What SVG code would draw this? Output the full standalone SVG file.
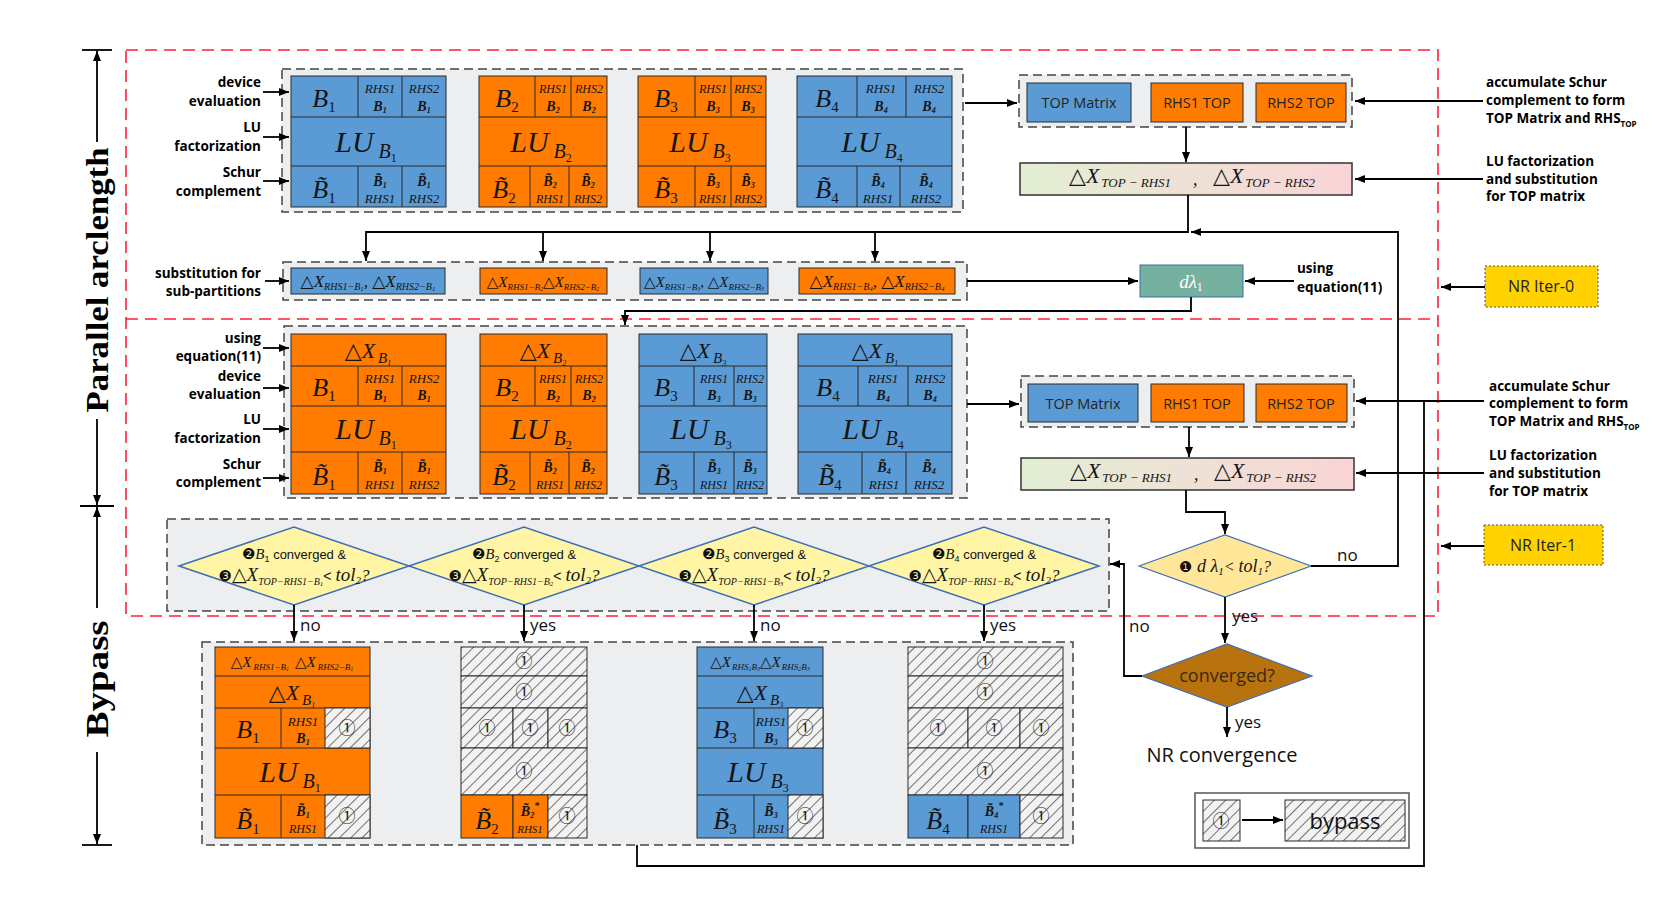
<svg xmlns="http://www.w3.org/2000/svg" width="1660" height="922" viewBox="0 0 1660 922">
<defs>
<style>
.blu{fill:#5B9BD5;stroke:#2B2B2B;stroke-width:1}
.org{fill:#FF7C00;stroke:#2B2B2B;stroke-width:1}
.hat{fill:url(#hatch);stroke:#2B2B2B;stroke-width:1}
.gl{fill:none;stroke:#2B2B2B;stroke-width:1}
.gbox{fill:#EDEEF0;stroke:#444;stroke-width:1.5;stroke-dasharray:9 5}
.red{fill:none;stroke:#FF1E3C;stroke-width:1.6;stroke-dasharray:12 7}
.ln{fill:none;stroke:#000;stroke-width:1.8}
.arr{marker-end:url(#ah)}
.m{font-family:"Liberation Serif","DejaVu Serif","DejaVu Sans",serif;font-style:italic;fill:#151515}
.s{font-family:"Open Sans","DejaVu Sans",sans-serif;fill:#222}
.lb{font-family:"Open Sans","DejaVu Sans",sans-serif;font-weight:bold;font-size:13.5px;fill:#000}
.c{text-anchor:middle}
.r{text-anchor:end}
.cn{font-family:"DejaVu Sans","Noto Sans CJK SC",sans-serif;font-style:normal}
.ci{font-family:"Noto Sans CJK SC","DejaVu Sans",sans-serif;font-size:17px;text-anchor:middle;fill:#222}
.nar{font-family:"Liberation Sans Narrow","Liberation Sans",sans-serif;font-style:normal}
.big{font-size:26px}
.sm{font-size:13px}
.sm2{font-size:12px}
.smb{font-size:14px;font-weight:bold}
.lu{font-size:30px}
.dx{font-size:22px}
.sb{font-size:15px;font-style:normal}
.ss{font-size:8px}
.lub{font-size:20px}
.lus{font-size:12px;font-style:normal}
.dia{fill:#FFF5A5;stroke:#3D6FB6;stroke-width:1.5}
.top{font-size:14.5px}
.lab{font-family:"Open Sans","DejaVu Sans",sans-serif;font-size:17px;fill:#111}
.ax{font-family:"Liberation Serif",serif;font-weight:bold;font-size:32px;text-anchor:middle}
</style>
<marker id="ah" markerWidth="10" markerHeight="8" refX="10" refY="4" orient="auto" markerUnits="userSpaceOnUse"><path d="M0,0 L10,4 L0,8 z" fill="#000"/></marker>
<pattern id="hatch" width="8" height="8" patternUnits="userSpaceOnUse" patternTransform="rotate(45)"><rect width="8" height="8" fill="#F2F2F2"/><line x1="0" y1="0" x2="0" y2="8" stroke="#2A2A2A" stroke-width="1.3"/></pattern>
<linearGradient id="gx" x1="0" y1="0" x2="1" y2="0"><stop offset="0" stop-color="#E2EFD4"/><stop offset="1" stop-color="#FAD4D6"/></linearGradient>
</defs>
<rect width="1660" height="922" fill="#fff"/>

<g id="regions">
<rect class="red" x="126" y="50" width="1312" height="566"/>
<line class="red" x1="126" y1="319" x2="1438" y2="319"/>
</g>

<g id="axis">
<path class="ln arr" d="M97,142V51"/>
<path class="ln" d="M82,50H112"/>
<text class="ax" transform="translate(108,280) rotate(-90)" textLength="265" lengthAdjust="spacingAndGlyphs">Parallel arclength</text>
<path class="ln arr" d="M97,419V505"/>
<path class="ln" d="M80,506H114"/>
<path class="ln arr" d="M97,608V507"/>
<text class="ax" transform="translate(108,679) rotate(-90)" textLength="117" lengthAdjust="spacingAndGlyphs">Bypass</text>
<path class="ln arr" d="M97,752V844"/>
<path class="ln" d="M82,845H112"/>
</g>

<g id="containers">
<rect class="gbox" x="282" y="69" width="681" height="143"/>
<rect class="gbox" x="283" y="262" width="684" height="38"/>
<rect class="gbox" x="284" y="326" width="683" height="172"/>
<rect class="gbox" x="1019" y="75" width="333" height="52"/>
<rect class="gbox" x="1021" y="376" width="333" height="51"/>
<rect class="gbox" x="167" y="519" width="942" height="92"/>
<rect class="gbox" x="202" y="642" width="871" height="203"/>
</g>

<g id="left-labels">
<text class="lb r" x="261" y="87">device</text><text class="lb r" x="261" y="106">evaluation</text>
<text class="lb r" x="261" y="132">LU</text><text class="lb r" x="261" y="151">factorization</text>
<text class="lb r" x="261" y="177">Schur</text><text class="lb r" x="261" y="196">complement</text>
<text class="lb r" x="261" y="278">substitution for</text><text class="lb r" x="261" y="296">sub-partitions</text>
<text class="lb r" x="261" y="343">using</text><text class="lb r" x="261" y="361">equation(11)</text>
<text class="lb r" x="261" y="381">device</text><text class="lb r" x="261" y="399">evaluation</text>
<text class="lb r" x="261" y="424">LU</text><text class="lb r" x="261" y="443">factorization</text>
<text class="lb r" x="261" y="469">Schur</text><text class="lb r" x="261" y="487">complement</text>
</g>

<g id="right-labels">
<text class="lb" x="1486" y="87">accumulate Schur</text>
<text class="lb" x="1486" y="105">complement to form</text>
<text class="lb" x="1486" y="123">TOP Matrix and RHS<tspan font-size="8" dy="4">TOP</tspan></text>
<text class="lb" x="1486" y="166">LU  factorization</text>
<text class="lb" x="1486" y="184">and substitution</text>
<text class="lb" x="1486" y="201">for TOP matrix</text>
<text class="lb" x="1489" y="391">accumulate Schur</text>
<text class="lb" x="1489" y="408">complement to form</text>
<text class="lb" x="1489" y="426">TOP Matrix and RHS<tspan font-size="8" dy="4">TOP</tspan></text>
<text class="lb" x="1489" y="460">LU  factorization</text>
<text class="lb" x="1489" y="478">and substitution</text>
<text class="lb" x="1489" y="496">for TOP matrix</text>
<text class="lb" x="1297" y="273">using</text>
<text class="lb" x="1297" y="292">equation(11)</text>
</g>

<g id="nr-iter-0"><rect x="1485" y="266" width="113" height="41" fill="#FFD200" stroke="#555" stroke-dasharray="2 2"/><text class="s c" x="1541" y="292" font-size="16">NR Iter-0</text></g>
<g id="nr-iter-1"><rect x="1484" y="525" width="119" height="40" fill="#FFD200" stroke="#555" stroke-dasharray="2 2"/><text class="s c" x="1543" y="551" font-size="16">NR Iter-1</text></g>

<!-- Top row blocks -->
<g id="t-b1">
<rect class="blu" x="291" y="76" width="155" height="131"/>
<path class="gl" d="M291,117H446M291,166H446M358,76V117M402,76V117M358,166V207M402,166V207"/>
<text class="m big c" x="324" y="107">B<tspan class="sb" dy="5">1</tspan></text>
<text class="m sm c" x="380" y="93">RHS1</text><text class="m smb c" x="380" y="111">B<tspan class="ss" dy="2">1</tspan></text>
<text class="m sm c" x="424" y="93">RHS2</text><text class="m smb c" x="424" y="111">B<tspan class="ss" dy="2">1</tspan></text>
<text class="m lu c" x="366" y="152">LU<tspan class="lub" dx="5" dy="6">B</tspan><tspan class="lus" dy="4">1</tspan></text>
<text class="m big c" x="324" y="198">B&#x303;<tspan class="sb" dy="5">1</tspan></text>
<text class="m smb c" x="380" y="186">B&#x303;<tspan class="ss" dy="2">1</tspan></text><text class="m sm c" x="380" y="203">RHS1</text>
<text class="m smb c" x="424" y="186">B&#x303;<tspan class="ss" dy="2">1</tspan></text><text class="m sm c" x="424" y="203">RHS2</text>
</g>
<g id="t-b2">
<rect class="org" x="479" y="76" width="128" height="131"/>
<path class="gl" d="M479,117H607M479,166H607M535,76V117M571,76V117M530,166V207M569,166V207"/>
<text class="m big c" x="507" y="107">B<tspan class="sb" dy="5">2</tspan></text>
<text class="m sm2 c" x="553" y="93">RHS1</text><text class="m smb c" x="553" y="111">B<tspan class="ss" dy="2">2</tspan></text>
<text class="m sm2 c" x="589" y="93">RHS2</text><text class="m smb c" x="589" y="111">B<tspan class="ss" dy="2">2</tspan></text>
<text class="m lu c" x="541" y="152">LU<tspan class="lub" dx="5" dy="6">B</tspan><tspan class="lus" dy="4">2</tspan></text>
<text class="m big c" x="504" y="198">B&#x303;<tspan class="sb" dy="5">2</tspan></text>
<text class="m smb c" x="550" y="186">B&#x303;<tspan class="ss" dy="2">2</tspan></text><text class="m sm2 c" x="550" y="203">RHS1</text>
<text class="m smb c" x="588" y="186">B&#x303;<tspan class="ss" dy="2">2</tspan></text><text class="m sm2 c" x="588" y="203">RHS2</text>
</g>
<g id="t-b3">
<rect class="org" x="638" y="76" width="128" height="131"/>
<path class="gl" d="M638,117H766M638,166H766M695,76V117M731,76V117M695,166V207M731,166V207"/>
<text class="m big c" x="666" y="107">B<tspan class="sb" dy="5">3</tspan></text>
<text class="m sm2 c" x="713" y="93">RHS1</text><text class="m smb c" x="713" y="111">B<tspan class="ss" dy="2">3</tspan></text>
<text class="m sm2 c" x="748" y="93">RHS2</text><text class="m smb c" x="748" y="111">B<tspan class="ss" dy="2">3</tspan></text>
<text class="m lu c" x="700" y="152">LU<tspan class="lub" dx="5" dy="6">B</tspan><tspan class="lus" dy="4">3</tspan></text>
<text class="m big c" x="666" y="198">B&#x303;<tspan class="sb" dy="5">3</tspan></text>
<text class="m smb c" x="713" y="186">B&#x303;<tspan class="ss" dy="2">3</tspan></text><text class="m sm2 c" x="713" y="203">RHS1</text>
<text class="m smb c" x="748" y="186">B&#x303;<tspan class="ss" dy="2">3</tspan></text><text class="m sm2 c" x="748" y="203">RHS2</text>
</g>
<g id="t-b4">
<rect class="blu" x="797" y="76" width="155" height="131"/>
<path class="gl" d="M797,117H952M797,166H952M857,76V117M906,76V117M857,166V207M900,166V207"/>
<text class="m big c" x="827" y="107">B<tspan class="sb" dy="5">4</tspan></text>
<text class="m sm c" x="881" y="93">RHS1</text><text class="m smb c" x="881" y="111">B<tspan class="ss" dy="2">4</tspan></text>
<text class="m sm c" x="929" y="93">RHS2</text><text class="m smb c" x="929" y="111">B<tspan class="ss" dy="2">4</tspan></text>
<text class="m lu c" x="872" y="152">LU<tspan class="lub" dx="5" dy="6">B</tspan><tspan class="lus" dy="4">4</tspan></text>
<text class="m big c" x="827" y="198">B&#x303;<tspan class="sb" dy="5">4</tspan></text>
<text class="m smb c" x="878" y="186">B&#x303;<tspan class="ss" dy="2">4</tspan></text><text class="m sm c" x="878" y="203">RHS1</text>
<text class="m smb c" x="926" y="186">B&#x303;<tspan class="ss" dy="2">4</tspan></text><text class="m sm c" x="926" y="203">RHS2</text>
</g>

<!-- TOP boxes -->
<g id="top-1">
<rect class="blu" x="1027" y="83" width="104" height="39" stroke="#3A6FA8"/>
<rect class="org" x="1151" y="83" width="92" height="39" stroke="#3A6FA8"/>
<rect class="org" x="1256" y="83" width="90" height="39" stroke="#3A6FA8"/>
<text class="s top c" x="1079" y="108">TOP Matrix</text>
<text class="s top c" x="1197" y="108">RHS1 TOP</text>
<text class="s top c" x="1301" y="108">RHS2 TOP</text>
</g>
<g id="dx-top-1">
<rect x="1020" y="163" width="332" height="32" fill="url(#gx)" stroke="#333" stroke-width="1.5"/>
<text class="m" x="1069" y="183" font-size="22">△X<tspan font-size="13" dx="2" dy="4">TOP − RHS1</tspan></text>
<text class="m" x="1193" y="185" font-size="18">,</text>
<text class="m" x="1213" y="183" font-size="22">△X<tspan font-size="13" dx="2" dy="4">TOP − RHS2</tspan></text>
</g>

<!-- Substitution row -->
<g id="sub-1"><rect class="blu" x="291" y="268" width="154" height="26" stroke="#3A6FA8"/>
<text class="m c" x="368" y="287" font-size="17">△X<tspan font-size="10" dy="3">RHS1−B</tspan><tspan font-size="7" dy="1">1</tspan><tspan dy="-4">, △X</tspan><tspan font-size="10" dy="3">RHS2−B</tspan><tspan font-size="7" dy="1">1</tspan></text></g>
<g id="sub-2"><rect class="org" x="480" y="268" width="127" height="26" stroke="#3A6FA8"/>
<text class="m c" x="543" y="287" font-size="15">△X<tspan font-size="9" dy="3">RHS1−B</tspan><tspan font-size="6" dy="1">2</tspan><tspan dy="-4">△X</tspan><tspan font-size="9" dy="3">RHS2−B</tspan><tspan font-size="6" dy="1">2</tspan></text></g>
<g id="sub-3"><rect class="blu" x="640" y="268" width="128" height="26" stroke="#3A6FA8"/>
<text class="m c" x="704" y="287" font-size="15">△X<tspan font-size="9" dy="3">RHS1−B</tspan><tspan font-size="6" dy="1">3</tspan><tspan dy="-4">, △X</tspan><tspan font-size="9" dy="3">RHS2−B</tspan><tspan font-size="6" dy="1">3</tspan></text></g>
<g id="sub-4"><rect class="org" x="799" y="268" width="156" height="26" stroke="#3A6FA8"/>
<text class="m c" x="877" y="287" font-size="17">△X<tspan font-size="10" dy="3">RHS1−B</tspan><tspan font-size="7" dy="1">4</tspan><tspan dy="-4">, △X</tspan><tspan font-size="10" dy="3">RHS2−B</tspan><tspan font-size="7" dy="1">4</tspan></text></g>

<g id="dlambda"><rect x="1140" y="265" width="103" height="32" fill="#76B09E" stroke="#3A6FA8"/>
<text class="m c" x="1191" y="288" font-size="19" style="fill:#fff">dλ<tspan font-size="12" dy="3" font-style="normal">1</tspan></text></g>

<!-- Middle row blocks -->
<g id="m-b1">
<rect class="org" x="291" y="334" width="155" height="160"/>
<path class="gl" d="M291,366H446M291,406H446M291,452H446M358,366V406M402,366V406M358,452V494M402,452V494"/>
<text class="m dx c" x="368" y="358">△X<tspan font-size="15" dx="3" dy="5">B</tspan><tspan class="ss" dy="3">1</tspan></text>
<text class="m big c" x="324" y="396">B<tspan class="sb" dy="5">1</tspan></text>
<text class="m sm c" x="380" y="383">RHS1</text><text class="m smb c" x="380" y="400">B<tspan class="ss" dy="2">1</tspan></text>
<text class="m sm c" x="424" y="383">RHS2</text><text class="m smb c" x="424" y="400">B<tspan class="ss" dy="2">1</tspan></text>
<text class="m lu c" x="366" y="439">LU<tspan class="lub" dx="5" dy="6">B</tspan><tspan class="lus" dy="4">1</tspan></text>
<text class="m big c" x="324" y="485">B&#x303;<tspan class="sb" dy="5">1</tspan></text>
<text class="m smb c" x="380" y="472">B&#x303;<tspan class="ss" dy="2">1</tspan></text><text class="m sm c" x="380" y="489">RHS1</text>
<text class="m smb c" x="424" y="472">B&#x303;<tspan class="ss" dy="2">1</tspan></text><text class="m sm c" x="424" y="489">RHS2</text>
</g>
<g id="m-b2">
<rect class="org" x="480" y="334" width="127" height="160"/>
<path class="gl" d="M480,366H607M480,406H607M480,452H607M535,366V406M571,366V406M530,452V494M569,452V494"/>
<text class="m dx c" x="543" y="358">△X<tspan font-size="15" dx="3" dy="5">B</tspan><tspan class="ss" dy="3">2</tspan></text>
<text class="m big c" x="507" y="396">B<tspan class="sb" dy="5">2</tspan></text>
<text class="m sm2 c" x="553" y="383">RHS1</text><text class="m smb c" x="553" y="400">B<tspan class="ss" dy="2">2</tspan></text>
<text class="m sm2 c" x="589" y="383">RHS2</text><text class="m smb c" x="589" y="400">B<tspan class="ss" dy="2">2</tspan></text>
<text class="m lu c" x="541" y="439">LU<tspan class="lub" dx="5" dy="6">B</tspan><tspan class="lus" dy="4">2</tspan></text>
<text class="m big c" x="504" y="485">B&#x303;<tspan class="sb" dy="5">2</tspan></text>
<text class="m smb c" x="550" y="472">B&#x303;<tspan class="ss" dy="2">2</tspan></text><text class="m sm2 c" x="550" y="489">RHS1</text>
<text class="m smb c" x="588" y="472">B&#x303;<tspan class="ss" dy="2">2</tspan></text><text class="m sm2 c" x="588" y="489">RHS2</text>
</g>
<g id="m-b3">
<rect class="blu" x="639" y="334" width="128" height="160"/>
<path class="gl" d="M639,366H767M639,406H767M639,452H767M694,366V406M734,366V406M694,452V494M734,452V494"/>
<text class="m dx c" x="703" y="358">△X<tspan font-size="15" dx="3" dy="5">B</tspan><tspan class="ss" dy="3">3</tspan></text>
<text class="m big c" x="666" y="396">B<tspan class="sb" dy="5">3</tspan></text>
<text class="m sm2 c" x="714" y="383">RHS1</text><text class="m smb c" x="714" y="400">B<tspan class="ss" dy="2">3</tspan></text>
<text class="m sm2 c" x="750" y="383">RHS2</text><text class="m smb c" x="750" y="400">B<tspan class="ss" dy="2">3</tspan></text>
<text class="m lu c" x="701" y="439">LU<tspan class="lub" dx="5" dy="6">B</tspan><tspan class="lus" dy="4">3</tspan></text>
<text class="m big c" x="666" y="485">B&#x303;<tspan class="sb" dy="5">3</tspan></text>
<text class="m smb c" x="714" y="472">B&#x303;<tspan class="ss" dy="2">3</tspan></text><text class="m sm2 c" x="714" y="489">RHS1</text>
<text class="m smb c" x="750" y="472">B&#x303;<tspan class="ss" dy="2">3</tspan></text><text class="m sm2 c" x="750" y="489">RHS2</text>
</g>
<g id="m-b4">
<rect class="blu" x="798" y="334" width="154" height="160"/>
<path class="gl" d="M798,366H952M798,406H952M798,452H952M858,366V406M908,366V406M862,452V494M906,452V494"/>
<text class="m dx c" x="875" y="358">△X<tspan font-size="15" dx="3" dy="5">B</tspan><tspan class="ss" dy="3">1</tspan></text>
<text class="m big c" x="828" y="396">B<tspan class="sb" dy="5">4</tspan></text>
<text class="m sm c" x="883" y="383">RHS1</text><text class="m smb c" x="883" y="400">B<tspan class="ss" dy="2">4</tspan></text>
<text class="m sm c" x="930" y="383">RHS2</text><text class="m smb c" x="930" y="400">B<tspan class="ss" dy="2">4</tspan></text>
<text class="m lu c" x="873" y="439">LU<tspan class="lub" dx="5" dy="6">B</tspan><tspan class="lus" dy="4">4</tspan></text>
<text class="m big c" x="830" y="485">B&#x303;<tspan class="sb" dy="5">4</tspan></text>
<text class="m smb c" x="884" y="472">B&#x303;<tspan class="ss" dy="2">4</tspan></text><text class="m sm c" x="884" y="489">RHS1</text>
<text class="m smb c" x="929" y="472">B&#x303;<tspan class="ss" dy="2">4</tspan></text><text class="m sm c" x="929" y="489">RHS2</text>
</g>

<g id="top-2">
<rect class="blu" x="1028" y="384" width="110" height="38" stroke="#3A6FA8"/>
<rect class="org" x="1151" y="384" width="93" height="38" stroke="#3A6FA8"/>
<rect class="org" x="1256" y="384" width="91" height="38" stroke="#3A6FA8"/>
<text class="s top c" x="1083" y="409">TOP Matrix</text>
<text class="s top c" x="1197" y="409">RHS1 TOP</text>
<text class="s top c" x="1301" y="409">RHS2 TOP</text>
</g>
<g id="dx-top-2">
<rect x="1021" y="458" width="333" height="32" fill="url(#gx)" stroke="#333" stroke-width="1.5"/>
<text class="m" x="1070" y="478" font-size="22">△X<tspan font-size="13" dx="2" dy="4">TOP − RHS1</tspan></text>
<text class="m" x="1194" y="480" font-size="18">,</text>
<text class="m" x="1214" y="478" font-size="22">△X<tspan font-size="13" dx="2" dy="4">TOP − RHS2</tspan></text>
</g>

<!-- Diamonds -->
<g id="d-b1"><polygon class="dia" points="179,566 294,527 409,566 294,605"/>
<text class="c" x="294" y="559" fill="#111"><tspan class="cn" font-size="15">❷</tspan><tspan class="m" font-size="15">B</tspan><tspan class="nar" font-size="9" dy="3">1</tspan><tspan class="nar" font-size="13" dy="-3"> converged &amp;</tspan></text>
<text class="c" x="294" y="581" fill="#111"><tspan class="cn" font-size="15">❸</tspan><tspan class="m" font-size="19">△X</tspan><tspan class="m" font-size="10" dy="4">TOP−RHS1−B</tspan><tspan class="m" font-size="7" dy="1">1</tspan><tspan class="nar" font-size="14" dy="-5">&lt; </tspan><tspan class="m" font-size="19">tol</tspan><tspan class="m" font-size="11" font-style="normal" dy="3">2</tspan><tspan class="m" font-size="17" dy="-3">?</tspan></text></g>
<g id="d-b2"><polygon class="dia" points="409,566 524,527 639,566 524,605"/>
<text class="c" x="524" y="559" fill="#111"><tspan class="cn" font-size="15">❷</tspan><tspan class="m" font-size="15">B</tspan><tspan class="nar" font-size="9" dy="3">2</tspan><tspan class="nar" font-size="13" dy="-3"> converged &amp;</tspan></text>
<text class="c" x="524" y="581" fill="#111"><tspan class="cn" font-size="15">❸</tspan><tspan class="m" font-size="19">△X</tspan><tspan class="m" font-size="10" dy="4">TOP−RHS1−B</tspan><tspan class="m" font-size="7" dy="1">2</tspan><tspan class="nar" font-size="14" dy="-5">&lt; </tspan><tspan class="m" font-size="19">tol</tspan><tspan class="m" font-size="11" font-style="normal" dy="3">2</tspan><tspan class="m" font-size="17" dy="-3">?</tspan></text></g>
<g id="d-b3"><polygon class="dia" points="639,566 754,527 869,566 754,605"/>
<text class="c" x="754" y="559" fill="#111"><tspan class="cn" font-size="15">❷</tspan><tspan class="m" font-size="15">B</tspan><tspan class="nar" font-size="9" dy="3">3</tspan><tspan class="nar" font-size="13" dy="-3"> converged &amp;</tspan></text>
<text class="c" x="754" y="581" fill="#111"><tspan class="cn" font-size="15">❸</tspan><tspan class="m" font-size="19">△X</tspan><tspan class="m" font-size="10" dy="4">TOP−RHS1−B</tspan><tspan class="m" font-size="7" dy="1">3</tspan><tspan class="nar" font-size="14" dy="-5">&lt; </tspan><tspan class="m" font-size="19">tol</tspan><tspan class="m" font-size="11" font-style="normal" dy="3">2</tspan><tspan class="m" font-size="17" dy="-3">?</tspan></text></g>
<g id="d-b4"><polygon class="dia" points="869,566 984,527 1099,566 984,605"/>
<text class="c" x="984" y="559" fill="#111"><tspan class="cn" font-size="15">❷</tspan><tspan class="m" font-size="15">B</tspan><tspan class="nar" font-size="9" dy="3">4</tspan><tspan class="nar" font-size="13" dy="-3"> converged &amp;</tspan></text>
<text class="c" x="984" y="581" fill="#111"><tspan class="cn" font-size="15">❸</tspan><tspan class="m" font-size="19">△X</tspan><tspan class="m" font-size="10" dy="4">TOP−RHS1−B</tspan><tspan class="m" font-size="7" dy="1">4</tspan><tspan class="nar" font-size="14" dy="-5">&lt; </tspan><tspan class="m" font-size="19">tol</tspan><tspan class="m" font-size="11" font-style="normal" dy="3">2</tspan><tspan class="m" font-size="17" dy="-3">?</tspan></text></g>

<g id="d-lambda"><polygon points="1139,566 1225,535 1311,566 1225,597" fill="#FFE699" stroke="#3D6FB6" stroke-width="1.2"/>
<text class="c" x="1225" y="572" fill="#111"><tspan class="cn" font-size="15">❶</tspan><tspan class="m" font-size="18"> d λ</tspan><tspan class="m" font-size="11" font-style="normal" dy="3">1</tspan><tspan class="m" font-size="16" font-style="normal" dy="-3">&lt; </tspan><tspan class="m" font-size="18">tol</tspan><tspan class="m" font-size="11" font-style="normal" dy="3">1</tspan><tspan class="m" font-size="16" dy="-3">?</tspan></text></g>
<g id="d-converged"><polygon points="1142,676 1227,644 1312,676 1227,707" fill="#B8720E" stroke="#3D6FB6" stroke-width="1.2"/>
<text class="s c" x="1227" y="682" font-size="18" style="fill:#3A2A10">converged?</text></g>
<g id="nr-convergence"><text class="s c" x="1222" y="762" font-size="20" style="fill:#111">NR convergence</text></g>

<!-- Bypass blocks -->
<g id="bp-b1">
<rect class="org" x="215" y="647" width="155" height="191"/>
<path class="gl" d="M215,676H370M215,708H370M215,748H370M215,795H370M281,708V748M281,795V838"/>
<rect class="hat" x="325" y="708" width="45" height="40"/><rect class="hat" x="325" y="795" width="45" height="43"/>
<text class="m c" x="292" y="667" font-size="15">△X<tspan font-size="9" dx="2" dy="3">RHS1−B</tspan><tspan font-size="6" dy="1">1</tspan><tspan dx="6" dy="-4">△X</tspan><tspan font-size="9" dx="2" dy="3">RHS2−B</tspan><tspan font-size="6" dy="1">1</tspan></text>
<text class="m dx c" x="292" y="700">△X<tspan font-size="15" dx="3" dy="5">B</tspan><tspan class="ss" dy="3">1</tspan></text>
<text class="m big c" x="248" y="738">B<tspan class="sb" dy="5">1</tspan></text>
<text class="m sm c" x="303" y="726">RHS1</text><text class="m smb c" x="303" y="743">B<tspan class="ss" dy="2">1</tspan></text>
<text class="ci" x="347" y="734">①</text>
<text class="m lu c" x="290" y="782">LU<tspan class="lub" dx="5" dy="6">B</tspan><tspan class="lus" dy="4">1</tspan></text>
<text class="m big c" x="248" y="829">B&#x303;<tspan class="sb" dy="5">1</tspan></text>
<text class="m smb c" x="303" y="816">B&#x303;<tspan class="ss" dy="2">1</tspan></text><text class="m sm2 c" x="303" y="833">RHS1</text>
<text class="ci" x="347" y="822">①</text>
</g>
<g id="bp-b2">
<rect class="hat" x="461" y="647" width="126" height="29"/>
<rect class="hat" x="461" y="676" width="126" height="32"/>
<rect class="hat" x="461" y="708" width="52" height="40"/><rect class="hat" x="513" y="708" width="35" height="40"/><rect class="hat" x="548" y="708" width="39" height="40"/>
<rect class="hat" x="461" y="748" width="126" height="47"/>
<rect class="org" x="461" y="795" width="52" height="43"/><rect class="org" x="513" y="795" width="35" height="43"/><rect class="hat" x="548" y="795" width="39" height="43"/>
<text class="ci" x="524" y="667">①</text><text class="ci" x="524" y="698">①</text>
<text class="ci" x="487" y="734">①</text><text class="ci" x="530" y="734">①</text><text class="ci" x="567" y="734">①</text>
<text class="ci" x="524" y="777">①</text><text class="ci" x="567" y="822">①</text>
<text class="m big c" x="487" y="829">B&#x303;<tspan class="sb" dy="5">2</tspan></text>
<text class="m smb c" x="530" y="816">B&#x303;<tspan class="ss" dy="2">2</tspan><tspan font-size="10" dy="-9">*</tspan></text><text class="m c" x="530" y="833" font-size="11">RHS1</text>
</g>
<g id="bp-b3">
<rect class="blu" x="697" y="647" width="126" height="191"/>
<path class="gl" d="M697,676H823M697,708H823M697,748H823M697,795H823M754,708V748M754,795V838"/>
<rect class="hat" x="788" y="708" width="35" height="40"/><rect class="hat" x="788" y="795" width="35" height="43"/>
<text class="m c" x="760" y="667" font-size="15">△X<tspan font-size="9" dx="1" dy="3">RHS</tspan><tspan font-size="6" dy="1">1</tspan><tspan font-size="9" dy="-1">B</tspan><tspan font-size="6" dy="1">3</tspan><tspan dy="-4">△X</tspan><tspan font-size="9" dx="1" dy="3">RHS</tspan><tspan font-size="6" dy="1">2</tspan><tspan font-size="9" dy="-1">B</tspan><tspan font-size="6" dy="1">3</tspan></text>
<text class="m dx c" x="760" y="700">△X<tspan font-size="15" dx="3" dy="5">B</tspan><tspan class="ss" dy="3">3</tspan></text>
<text class="m big c" x="725" y="738">B<tspan class="sb" dy="5">3</tspan></text>
<text class="m sm c" x="771" y="726">RHS1</text><text class="m smb c" x="771" y="743">B<tspan class="ss" dy="2">3</tspan></text>
<text class="ci" x="805" y="734">①</text>
<text class="m lu c" x="758" y="782">LU<tspan class="lub" dx="5" dy="6">B</tspan><tspan class="lus" dy="4">3</tspan></text>
<text class="m big c" x="725" y="829">B&#x303;<tspan class="sb" dy="5">3</tspan></text>
<text class="m smb c" x="771" y="816">B&#x303;<tspan class="ss" dy="2">3</tspan></text><text class="m sm2 c" x="771" y="833">RHS1</text>
<text class="ci" x="805" y="822">①</text>
</g>
<g id="bp-b4">
<rect class="hat" x="908" y="647" width="155" height="29"/>
<rect class="hat" x="908" y="676" width="155" height="32"/>
<rect class="hat" x="908" y="708" width="60" height="40"/><rect class="hat" x="968" y="708" width="52" height="40"/><rect class="hat" x="1020" y="708" width="43" height="40"/>
<rect class="hat" x="908" y="748" width="155" height="47"/>
<rect class="blu" x="908" y="795" width="60" height="43"/><rect class="blu" x="968" y="795" width="52" height="43"/><rect class="hat" x="1020" y="795" width="43" height="43"/>
<text class="ci" x="985" y="667">①</text><text class="ci" x="985" y="698">①</text>
<text class="ci" x="938" y="734">①</text><text class="ci" x="994" y="734">①</text><text class="ci" x="1041" y="734">①</text>
<text class="ci" x="985" y="777">①</text><text class="ci" x="1041" y="822">①</text>
<text class="m big c" x="938" y="829">B&#x303;<tspan class="sb" dy="5">4</tspan></text>
<text class="m smb c" x="994" y="816">B&#x303;<tspan class="ss" dy="2">4</tspan><tspan font-size="10" dy="-9">*</tspan></text><text class="m sm2 c" x="994" y="833">RHS1</text>
</g>

<g id="legend">
<rect x="1195" y="793" width="214" height="55" fill="#fff" stroke="#555" stroke-width="1.5"/>
<rect class="hat" x="1203" y="800" width="37" height="41"/>
<text class="ci" x="1221" y="827">①</text>
<rect class="hat" x="1285" y="800" width="120" height="41"/>
<text class="s c" x="1345" y="829" font-size="22" style="fill:#111">bypass</text>
</g>

<g id="connectors" class="ln">
<path class="arr" d="M263,92H289"/>
<path class="arr" d="M263,137H289"/>
<path class="arr" d="M263,181H289"/>
<path class="arr" d="M265,281H289"/>
<path class="arr" d="M263,348H289"/>
<path class="arr" d="M263,388H289"/>
<path class="arr" d="M263,429H289"/>
<path class="arr" d="M263,478H289"/>
<path class="arr" d="M965,103H1017"/>
<path class="arr" d="M1186,127V162"/>
<path class="arr" d="M1483,101H1355"/>
<path class="arr" d="M1483,179H1355"/>
<path class="arr" d="M1188,195V232H366V261"/>
<path class="arr" d="M543,232V261"/>
<path class="arr" d="M710,232V261"/>
<path class="arr" d="M875,232V261"/>
<path class="arr" d="M1311,566H1398V232H1191"/>
<path class="arr" d="M967,281H1138"/>
<path class="arr" d="M1294,281H1245"/>
<path class="arr" d="M1191,297V311H625V325"/>
<path class="arr" d="M967,404H1019"/>
<path class="arr" d="M1189,427V457"/>
<path class="arr" d="M1484,401H1356"/>
<path class="arr" d="M1484,473H1356"/>
<path class="arr" d="M1186,490V512H1225V534"/>
<path class="arr" d="M1225,597V643"/>
<path class="arr" d="M1142,676H1124V564H1110"/>
<path class="arr" d="M1227,707V737"/>
<path class="arr" d="M294,605V641"/>
<path class="arr" d="M524,605V641"/>
<path class="arr" d="M754,605V641"/>
<path class="arr" d="M984,605V641"/>
<path d="M637,845V866H1424V401"/>
<path class="arr" d="M1485,287H1441"/>
<path class="arr" d="M1484,546H1441"/>
<path class="arr" d="M1242,820H1283"/>
</g>

<g id="connector-labels">
<text class="lab" x="300" y="631">no</text>
<text class="lab" x="530" y="631">yes</text>
<text class="lab" x="760" y="631">no</text>
<text class="lab" x="990" y="631">yes</text>
<text class="lab" x="1337" y="561" font-size="18">no</text>
<text class="lab" x="1232" y="622" font-size="18">yes</text>
<text class="lab" x="1129" y="632" font-size="18">no</text>
<text class="lab" x="1235" y="728" font-size="18">yes</text>
</g>
</svg>
